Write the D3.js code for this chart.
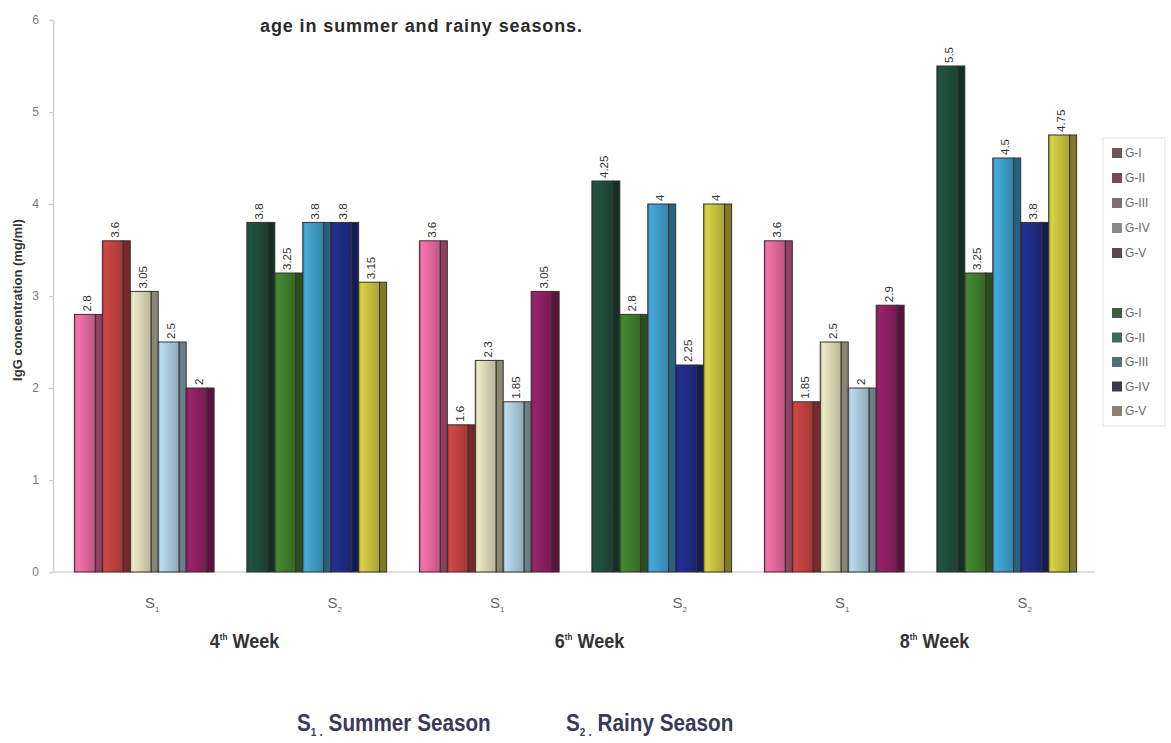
<!DOCTYPE html>
<html>
<head>
<meta charset="utf-8">
<script src="https://cdn.jsdelivr.net/npm/d3@7"></script>
<style>
  html, body { margin: 0; padding: 0; background: #ffffff; }
  svg { display: block; font-family: "Liberation Sans", Arial, sans-serif; }
</style>
</head>
<body>
<svg id="chart" width="1171" height="743"></svg>
<script>
// ---- data ----
const groups = ["4S1", "4S2", "6S1", "6S2", "8S1", "8S2"];
const seasonLabels = ["1", "2", "1", "2", "1", "2"];
const weekLabels = ["4", "6", "8"];
const seriesNames = ["G-I", "G-II", "G-III", "G-IV", "G-V"];
const week4Summer = [2.8, 3.6, 3.05, 2.5, 2];
const week4Rainy  = [3.8, 3.25, 3.8, 3.8, 3.15];
const week6Summer = [3.6, 1.6, 2.3, 1.85, 3.05];
const week6Rainy  = [4.25, 2.8, 4, 2.25, 4];
const week8Summer = [3.6, 1.85, 2.5, 2, 2.9];
const week8Rainy  = [5.5, 3.25, 4.5, 3.8, 4.75];
const valueLabels = [
  ["2.8", "3.6", "3.05", "2.5", "2"],
  ["3.8", "3.25", "3.8", "3.8", "3.15"],
  ["3.6", "1.6", "2.3", "1.85", "3.05"],
  ["4.25", "2.8", "4", "2.25", "4"],
  ["3.6", "1.85", "2.5", "2", "2.9"],
  ["5.5", "3.25", "4.5", "3.8", "4.75"]
];
const yTicks = [0, 1, 2, 3, 4, 5, 6];

const groupValues = [week4Summer, week4Rainy, week6Summer, week6Rainy, week8Summer, week8Rainy];

// colours
const summerColors = ["#e2689c", "#c0423f", "#d9d6b4", "#a9cadb", "#8e1f62"];
const rainyColors  = ["#1f4d3b", "#3f7d2c", "#3f9cc9", "#1f2b85", "#c9c23e"];
const legendSummer = ["#6e5558", "#7c4a50", "#7a7070", "#8e8888", "#5e4858"];
const legendRainy  = ["#3f5d45", "#3e6a5e", "#55707a", "#3a3a52", "#8a8070"];

const svg = d3.select("#chart");
const defs = svg.append("defs");

const y = d3.scaleLinear().domain([0, 6]).range([572, 20]);
const x0 = d3.scaleBand().domain(groups).range([58, 1093]).paddingInner(0.19).paddingOuter(0.095);
const x1 = d3.scaleBand().domain(seriesNames).range([0, x0.bandwidth()]).padding(0);

// gradients
function makeGrad(id, c) {
  const base = d3.color(c);
  const g = defs.append("linearGradient").attr("id", id).attr("x1", "0").attr("x2", "1").attr("y1", "0").attr("y2", "0");
  g.append("stop").attr("offset", "0").attr("stop-color", base.darker(0.6));
  g.append("stop").attr("offset", "0.12").attr("stop-color", base.brighter(0.25));
  g.append("stop").attr("offset", "0.45").attr("stop-color", base);
  g.append("stop").attr("offset", "1").attr("stop-color", base.darker(0.5));
}
summerColors.forEach((c, i) => makeGrad("gs" + i, c));
rainyColors.forEach((c, i) => makeGrad("gr" + i, c));

// axes
const yAxis = svg.append("g").attr("transform", "translate(53,0)")
  .call(d3.axisLeft(y).tickValues(yTicks).tickSize(4).tickPadding(10).tickFormat(d3.format("d")));
yAxis.select(".domain").attr("stroke", "#cfcfcf").attr("stroke-width", 1.5);
yAxis.selectAll(".tick line").attr("stroke", "#cfcfcf");
yAxis.selectAll(".tick text").attr("fill", "#7a7a7a").attr("font-size", 12)
  .attr("font-family", "Liberation Sans, Arial, sans-serif");

svg.append("line").attr("x1", 53).attr("x2", 1095).attr("y1", y(0)).attr("y2", y(0))
  .attr("stroke", "#d6d6d6").attr("stroke-width", 1.5);

// bars
const sideW = 7;
groups.forEach((gname, gi) => {
  const vals = groupValues[gi];
  const isSummer = gi % 2 === 0;
  const cols = isSummer ? summerColors : rainyColors;
  const g = svg.append("g").attr("transform", `translate(${x0(gname)},0)`);
  vals.forEach((v, si) => {
    const bx = x1(seriesNames[si]);
    const bw = x1.bandwidth();
    const top = y(v);
    const h = y(0) - top;
    g.append("rect").attr("x", bx).attr("y", top).attr("width", bw - sideW).attr("height", h)
      .attr("fill", `url(#${isSummer ? "gs" : "gr"}${si})`).attr("stroke", "#3a3030").attr("stroke-width", 1);
    g.append("rect").attr("x", bx + bw - sideW).attr("y", top).attr("width", sideW).attr("height", h)
      .attr("fill", d3.color(cols[si]).darker(1.3)).attr("stroke", "#3a3030").attr("stroke-width", 1);
    // value label
    const lx = bx + (bw - sideW) / 2 + 2;
    const lab = g.append("g").attr("transform", `translate(${lx},${top - 3}) rotate(-90)`);
    const t = lab.append("text").attr("x", 0).attr("y", 0).attr("dy", "0.35em")
      .attr("font-size", 11.5).attr("fill", "#333").text(valueLabels[gi][si]);
    const bb = t.node().getBBox();
    lab.insert("rect", "text").attr("x", bb.x - 1).attr("y", bb.y - 1).attr("width", bb.width + 3).attr("height", bb.height + 2)
      .attr("fill", "#ffffff");
  });
});

// season labels
groups.forEach((gname, gi) => {
  const cx = x0(gname) + x0.bandwidth() / 2 + (gi % 2 === 1 ? 18 : 8);
  const t = svg.append("text").attr("x", cx).attr("y", 608).attr("text-anchor", "middle")
    .attr("fill", "#666").attr("font-size", 15);
  t.append("tspan").text("S");
  t.append("tspan").attr("font-size", 8).attr("dy", 4).text(seasonLabels[gi]);
});

// week labels
weekLabels.forEach((w, wi) => {
  const a = x0(groups[wi * 2]), b = x0(groups[wi * 2 + 1]) + x0.bandwidth();
  const cx = (a + b) / 2 + 14;
  const t = svg.append("text").attr("transform", `translate(${cx},648) scale(0.9,1)`).attr("text-anchor", "middle")
    .attr("fill", "#333").attr("font-size", 20).attr("font-weight", "bold");
  t.append("tspan").text(w);
  t.append("tspan").attr("font-size", 9).attr("dy", -8).text("th");
  t.append("tspan").attr("dy", 8).text(" Week");
});

// y label
svg.append("text").attr("transform", "translate(22,300) rotate(-90)").attr("text-anchor", "middle")
  .attr("font-size", 13).attr("font-weight", "bold").attr("fill", "#333").text("IgG concentration (mg/ml)");

// title (second line)
svg.append("text").attr("x", 260).attr("y", 32).attr("font-size", 18).attr("font-weight", "bold")
  .attr("letter-spacing", 0.9).attr("fill", "#2b2b2b").text("age in summer and rainy seasons.");

// legend
svg.append("rect").attr("x", 1103).attr("y", 138).attr("width", 62).attr("height", 288)
  .attr("fill", "none").attr("stroke", "#e2e2e2");
const legItems = legendSummer.map((c, i) => ({c, name: seriesNames[i], yy: 153 + i * 25}))
  .concat(legendRainy.map((c, i) => ({c, name: seriesNames[i], yy: 313 + i * 24.5})));
const leg = svg.append("g");
legItems.forEach(d => {
  leg.append("rect").attr("x", 1112).attr("y", d.yy - 5).attr("width", 10).attr("height", 10).attr("fill", d.c);
  leg.append("text").attr("x", 1125).attr("y", d.yy).attr("dy", "0.35em").attr("font-size", 12)
    .attr("fill", "#6a6a6a").text(d.name);
});

// footnote
const foot = [{s: "1", txt: "Summer Season", x: 297}, {s: "2", txt: "Rainy Season", x: 566}];
foot.forEach(f => {
  const t = svg.append("text").attr("transform", `translate(${f.x},731) scale(0.9,1)`).attr("font-size", 23).attr("font-weight", "bold")
    .attr("fill", "#3a3a58");
  t.append("tspan").text("S");
  t.append("tspan").attr("font-size", 11).attr("dy", 5).text(f.s);
  t.append("tspan").attr("font-size", 13).attr("dy", 0).text(" .");
  t.append("tspan").attr("dy", -5).text("  " + f.txt);
});
</script>
</body>
</html>
